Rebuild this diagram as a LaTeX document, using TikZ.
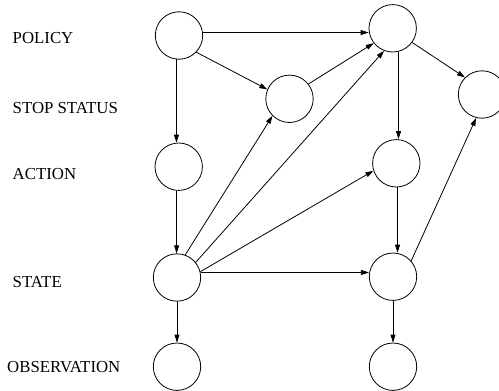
\documentclass[tikz,border=0pt]{standalone}
\usepackage{fontspec}
\setmainfont{Liberation Serif}
\usetikzlibrary{arrows.meta}
\begin{document}
\begin{tikzpicture}[x=1pt,y=-1pt,
  var/.style={circle,draw,line width=0.8pt,minimum size=47.4pt,inner sep=0pt},
  lab/.style={anchor=base west,inner sep=0pt,font=\fontsize{16.8}{20}\selectfont},
  edge/.style={line width=0.8pt,-{Triangle[length=8pt,width=5pt]}}]
\path[use as bounding box] (0,0) rectangle (499,391);
\clip (0,0) rectangle (499,391);
% labels
\node[lab] (lpol) at (12.5,43.3) {POLICY};
\node[lab] (lstop) at (12.5,113.3) {STOP STATUS};
\node[lab] (lact) at (12.5,179) {ACTION};
\node[lab] (lsta) at (12.5,287.3) {STATE};
\node[lab] (lobs) at (7,372.7) {OBSERVATION};
% nodes
\node[var] (P1) at (179,35.5) {};
\node[var] (ST1) at (289.5,98.8) {};
\node[var] (P2) at (392.7,28.3) {};
\node[var] (ST2) at (482,94.5) {};
\node[var] (A1) at (178.7,166.7) {};
\node[var] (A2) at (396.3,163.3) {};
\node[var] (S1) at (177,277.5) {};
\node[var] (S2) at (393,276.7) {};
\node[var] (O1) at (177,366.7) {};
\node[var] (O2) at (393,366.7) {};
% edges
\draw[edge] (P1.7) -- (P1.7 -| P2.west);
\draw[edge] (P1.264) -- (P1.264 |- A1.north);
\draw[edge] (P1.-44) -- (ST1.157);
\draw[edge] (ST1.38) -- (P2.218);
\draw[edge] (P2.-36) -- (ST2.135);
\draw[edge] (P2.284) -- (P2.284 |- A2.north);
\draw[edge] (A1.265) -- (A1.265 |- S1.north);
\draw[edge] (S1.70) -- (ST1.225);
\draw[edge] (S1.39) -- (P2.249);
\draw[edge] (S1.14) -- (A2.198);
\draw[edge] (S1.12) -- (S1.12 -| S2.west);
\draw[edge] (A2.273) -- (A2.273 |- S2.north);
\draw[edge] (S2.41) -- (ST2.256);
\draw[edge] (S1.south) -- (O1.north);
\draw[edge] (S2.south) -- (O2.north);
\end{tikzpicture}
\end{document}
